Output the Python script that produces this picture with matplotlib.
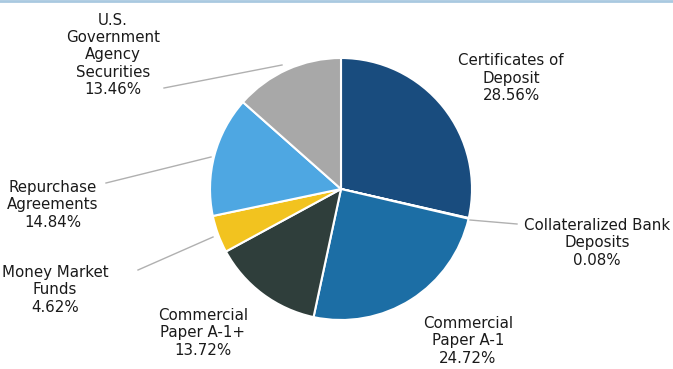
import matplotlib
matplotlib.use("Agg")
import matplotlib.pyplot as plt

categories = ["Certificates of\nDeposit", "Collateralized Bank\nDeposits", "Commercial\nPaper A-1",
              "Commercial\nPaper A-1+", "Money Market\nFunds", "Repurchase\nAgreements",
              "U.S.\nGovernment\nAgency\nSecurities"]
values = [28.56, 0.08, 24.72, 13.72, 4.62, 14.84, 13.46]
colors = ["#194c7e", "#3a7fb5", "#1c6ea5", "#2f3e3b", "#f2c31f", "#4ea7e2", "#a8a8a8"]

W, H = 673, 369
fig = plt.figure(figsize=(W / 100, H / 100), dpi=100)
ax = fig.add_axes([0, 0, 1, 1])
ax.set_xlim(0, W)
ax.set_ylim(0, H)
ax.set_aspect("equal")
ax.axis("off")

cx, cy, r = 341, H - 189, 131
ax.pie(values, colors=colors, startangle=90, counterclock=False, center=(cx, cy), radius=r,
       wedgeprops=dict(edgecolor="white", linewidth=1.5), frame=False)
ax.set_xlim(0, W)
ax.set_ylim(0, H)

# label positions (pixel coords of text center) and leader lines
label_pos = [(511, 78), (597, 243), (468, 341), (203, 333), (55, 290), (53, 205), (113, 55)]
leaders = [None,
           [(470, 220), (517, 224)],
           None, None,
           [(138, 270), (213, 237)],
           [(106, 183), (211, 157)],
           [(164, 88), (282, 65)]]

for lab, v, (x, y), ld in zip(categories, values, label_pos, leaders):
    txt = f"{lab}\n{v:.2f}%"
    ax.text(x, H - y, txt, ha="center", va="center", fontsize=10.8, color="#1a1a1a",
            linespacing=1.2, family="DejaVu Sans")
    if ld:
        ax.plot([ld[0][0], ld[1][0]], [H - ld[0][1], H - ld[1][1]], color="#b0b0b0", lw=1)

# thin border at top
ax.plot([0, W], [H - 1, H - 1], color="#a9c9e0", lw=2)

fig.savefig("out.png", dpi=100)
